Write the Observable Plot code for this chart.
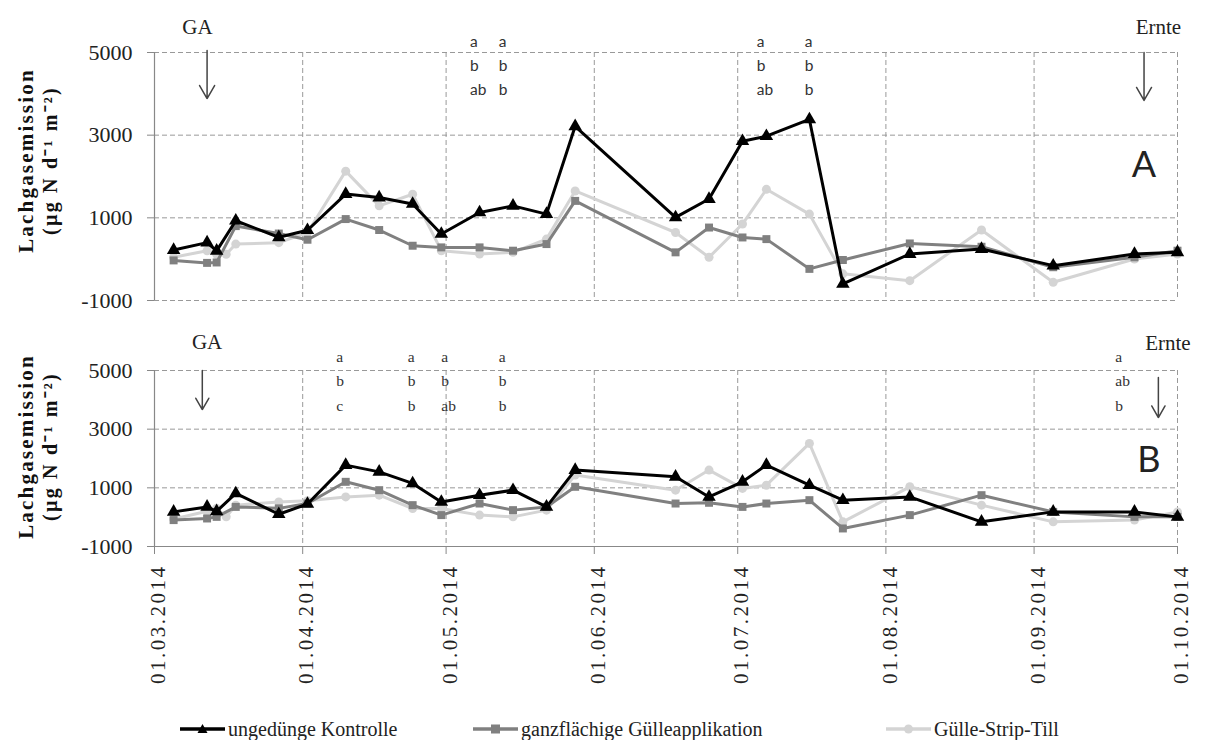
<!DOCTYPE html>
<html>
<head>
<meta charset="utf-8">
<script src="https://cdn.jsdelivr.net/npm/d3@7"></script>
<script src="https://cdn.jsdelivr.net/npm/@observablehq/plot@0.6"></script>
<style>
  html, body { margin: 0; padding: 0; background: #fff; }
  #root { position: relative; width: 1206px; height: 740px; overflow: hidden; }
  #root > div.panel { position: absolute; left: 0; }
  .legend { position: absolute; top: 716px; left: 0; width: 1206px; height: 26px; font-family: "Liberation Serif", serif; font-size: 20px; color: #222; }
  .legend .item { position: absolute; top: 0; display: flex; align-items: center; height: 26px; white-space: nowrap; }
  .legend svg { margin-right: 2px; }
</style>
</head>
<body>
<div id="root"></div>
<script>
// ---- data ----
const sampleDates = ["2014-03-05","2014-03-12","2014-03-14","2014-03-16","2014-03-18","2014-03-27","2014-04-02","2014-04-10","2014-04-17","2014-04-24","2014-04-30","2014-05-08","2014-05-15","2014-05-22","2014-05-28","2014-06-18","2014-06-25","2014-07-02","2014-07-07","2014-07-16","2014-07-23","2014-08-06","2014-08-21","2014-09-05","2014-09-22","2014-10-01"];

const seriesNames = ["ungedünge Kontrolle", "ganzflächige Gülleapplikation", "Gülle-Strip-Till"];

// Panel A
const kontrolleA = [220, 400, 200, null, 930, 530, 700, 1575, 1490, 1335, 610, 1130, 1290, 1090, 3215, 1010, 1455, 2855, 2975, 3380, -600, 125, 245, -157, 125, 165];
const guelleA    = [-30, -90, -80, null, 800, 620, 470, 970, 705, 325, 285, 285, 205, 365, 1410, 165, 765, 525, 485, -235, -20, 380, 300, -195, 45, 205];
const stripA     = [45, 205, 120, 120, 365, 400, 645, 2130, 1290, 1570, 205, 125, 165, 485, 1650, 645, 45, 850, 1690, 1090, -355, -520, 705, -560, 5, 125];

// Panel B
const kontrolleB = [180, 350, 200, null, 810, 100, 450, 1775, 1545, 1150, 520, 750, 920, 350, 1605, 1375, 690, 1205, 1775, 1090, 580, 690, -160, 180, 180, 10];
const guelleB    = [-100, -45, 10, null, 350, 300, 465, 1205, 920, 410, 70, 465, 240, 350, 1035, 465, 490, 350, 465, 580, -385, 70, 750, 180, 10, 10];
const stripB     = [-60, 200, 300, 10, 410, 520, 560, 690, 750, 295, 295, 70, 10, 240, 1435, 920, 1605, 980, 1090, 2515, -160, 1035, 410, -160, -100, 180];

const yTicks = [-1000, 1000, 3000, 5000];
const monthTicks = ["2014-03-01","2014-04-01","2014-05-01","2014-06-01","2014-07-01","2014-08-01","2014-09-01","2014-10-01"];

// annotations (significance letters, events)
const lettersA = [
  {date: "2014-05-06", value: 4734, text: "a\nb\nab"},
  {date: "2014-05-12", value: 4734, text: "a\nb\nb"},
  {date: "2014-07-05", value: 4734, text: "a\nb\nab"},
  {date: "2014-07-15", value: 4734, text: "a\nb\nb"}
];
const lettersB = [
  {date: "2014-04-08", value: 4727, text: "a\nb\nc"},
  {date: "2014-04-23", value: 4727, text: "a\nb\nb"},
  {date: "2014-04-30", value: 4727, text: "a\nb\nab"},
  {date: "2014-05-12", value: 4727, text: "a\nb\nb"},
  {date: "2014-09-18", value: 4727, text: "a\nab\nb"}
];
const eventLabelsA = [
  {date: "2014-03-10", value: 5605, text: "GA"},
  {date: "2014-09-27", value: 5605, text: "Ernte"}
];
const eventArrowsA = [
  {date: "2014-03-12", from: 5048, to: 3887},
  {date: "2014-09-24", from: 5000, to: 3839}
];
const eventLabelsB = [
  {date: "2014-03-12", value: 5955, text: "GA"},
  {date: "2014-09-29", value: 5920, text: "Ernte"}
];
const eventArrowsB = [
  {date: "2014-03-11", from: 5000, to: 3670},
  {date: "2014-09-27", from: 4761, to: 3397}
];
const panelTags = [
  {panel: "A", date: "2014-09-24", value: 2266},
  {panel: "B", date: "2014-09-25", value: 1931}
];
const yTitle = ["Lachgasemission", "(µg N d⁻¹ m⁻²)"];

// ---- helpers ----
const parse = s => new Date(s + "T00:00:00Z");
function rows(vals) {
  return sampleDates.map((d, i) => ({date: parse(d), value: vals[i]})).filter(r => r.value != null);
}
const styles = [
  {color: "#000000", symbol: "triangle", r: 5},
  {color: "#808080", symbol: "square", r: 4.5},
  {color: "#d4d4d4", symbol: "circle", r: 4.5}
];
const xDomain = [parse("2014-03-01"), parse("2014-10-01")];

function seriesMarks(arrs) {
  const marks = [];
  [2, 1, 0].forEach(k => {
    const data = rows(arrs[k]);
    const s = styles[k];
    marks.push(Plot.line(data, {x: "date", y: "value", stroke: s.color, strokeWidth: 3}));
    marks.push(Plot.dot(data, {x: "date", y: "value", symbol: s.symbol, fill: s.color, stroke: "none", r: s.r}));
  });
  return marks;
}

function annotationMarks(letters, letterFont, letterLH, labels, arrows, tag, titleDy) {
  const L = letters.map(d => ({...d, date: parse(d.date)}));
  const E = labels.map(d => ({...d, date: parse(d.date)}));
  const A = arrows.map(d => ({...d, date: parse(d.date)}));
  const T = [{...tag, date: parse(tag.date)}];
  return [
    Plot.text(L, {x: "date", y: "value", text: "text", textAnchor: "start", lineHeight: letterLH, fontSize: 15.5, fontFamily: letterFont, fill: "#333"}),
    Plot.text(E, {x: "date", y: "value", text: "text", fontSize: 21, fontFamily: "Liberation Serif", fill: "#222"}),
    Plot.arrow(A, {x1: "date", x2: "date", y1: "from", y2: "to", stroke: "#444", strokeWidth: 1.5, headLength: 15, headAngle: 60}),
    Plot.text(T, {x: "date", y: "value", text: "panel", fontSize: 36, fontFamily: "Lato", fill: "#222"}),
    Plot.text([yTitle[0]], {frameAnchor: "left", textAnchor: "middle", rotate: -90, dx: -128, dy: titleDy, fontSize: 21, fontWeight: "bold", fontFamily: "Liberation Serif", fill: "#111"}),
    Plot.text([yTitle[1]], {frameAnchor: "left", textAnchor: "middle", rotate: -90, dx: -104, dy: titleDy, fontSize: 20, fontWeight: "bold", fontFamily: "Liberation Serif", fill: "#111"})
  ];
}

function baseMarks() {
  return [
    Plot.gridX({ticks: monthTicks.map(parse), stroke: "#999", strokeOpacity: 1, strokeDasharray: "5,3"}),
    Plot.gridY({ticks: yTicks, stroke: "#999", strokeOpacity: 1, strokeDasharray: "5,3"}),
    Plot.ruleX([xDomain[0]], {y1: -1000, y2: 5000, stroke: "#888", strokeWidth: 1.2}),
    Plot.axisY({ticks: yTicks, tickSize: 7, tickPadding: 15, tickFormat: d => String(d), fontSize: 22, fontFamily: "Liberation Serif", stroke: "#888", fill: "#222", label: null})
  ];
}

const root = document.getElementById("root");

const plotA = Plot.plot({
  width: 1206, height: 310,
  marginLeft: 154, marginRight: 29, marginTop: 52, marginBottom: 10,
  x: {type: "utc", domain: xDomain, axis: null},
  y: {domain: [-1000, 5000]},
  style: {fontFamily: "Liberation Serif", background: "transparent", color: "#222", overflow: "visible"},
  marks: [
    ...baseMarks(),
    ...seriesMarks([kontrolleA, guelleA, stripA]),
    ...annotationMarks(lettersA, "Lato", 1.53, eventLabelsA, eventArrowsA, panelTags[0], -16)
  ]
});

const plotB = Plot.plot({
  width: 1206, height: 420,
  marginLeft: 154, marginRight: 29, marginTop: 50, marginBottom: 194,
  x: {type: "utc", domain: xDomain},
  y: {domain: [-1000, 5000]},
  style: {fontFamily: "Liberation Serif", background: "transparent", color: "#222", overflow: "visible"},
  marks: [
    ...baseMarks(),
    Plot.ruleY([-1000], {stroke: "#888", strokeWidth: 1.2}),
    Plot.axisX({ticks: monthTicks.map(parse), tickFormat: d3.utcFormat("%d.%m.%Y"), tickRotate: -90, tickSize: 8, tickPadding: 10, fontSize: 21, fontFamily: "Liberation Serif", stroke: "#888", fill: "#222", label: null}),
    ...seriesMarks([kontrolleB, guelleB, stripB]),
    ...annotationMarks(lettersB, "Liberation Serif", 1.6, eventLabelsB, eventArrowsB, panelTags[1], -12)
  ]
});

[[plotA, 0], [plotB, 320]].forEach(([p, top]) => {
  const wrap = document.createElement("div");
  wrap.className = "panel";
  wrap.style.top = top + "px";
  wrap.appendChild(p);
  root.appendChild(wrap);
  d3.select(p).selectAll("text").filter(function() {
    const t = this.textContent;
    return t === yTitle[0] || t === yTitle[1];
  }).style("letter-spacing", "2.2px");
});
// x tick labels: wider spacing, nudged right like the original
d3.select(plotB).selectAll("text").filter(function() {
  return /^\d\d\.\d\d\.\d{4}$/.test(this.textContent);
}).style("letter-spacing", "2.5px").each(function() {
  const tr = this.getAttribute("transform") || "";
  this.setAttribute("transform", "translate(4,0) " + tr);
});

// Legend
const legend = document.createElement("div");
legend.className = "legend";
const legendLeft = [180, 473, 886];
seriesNames.forEach((name, k) => {
  const s = styles[k];
  const item = document.createElement("div");
  item.className = "item";
  item.style.left = legendLeft[k] + "px";
  const sym = s.symbol === "triangle"
    ? `<path d="M22.5,8 L27.5,17 L17.5,17 Z" fill="${s.color}"/>`
    : s.symbol === "square"
      ? `<rect x="18" y="8.5" width="9" height="9" fill="${s.color}"/>`
      : `<circle cx="22.5" cy="13" r="4.5" fill="${s.color}"/>`;
  item.innerHTML = `<svg width="46" height="26"><line x1="0" x2="45" y1="13" y2="13" stroke="${s.color}" stroke-width="3.5"/>${sym}</svg><span>${name}</span>`;
  legend.appendChild(item);
});
root.appendChild(legend);
</script>
</body>
</html>
